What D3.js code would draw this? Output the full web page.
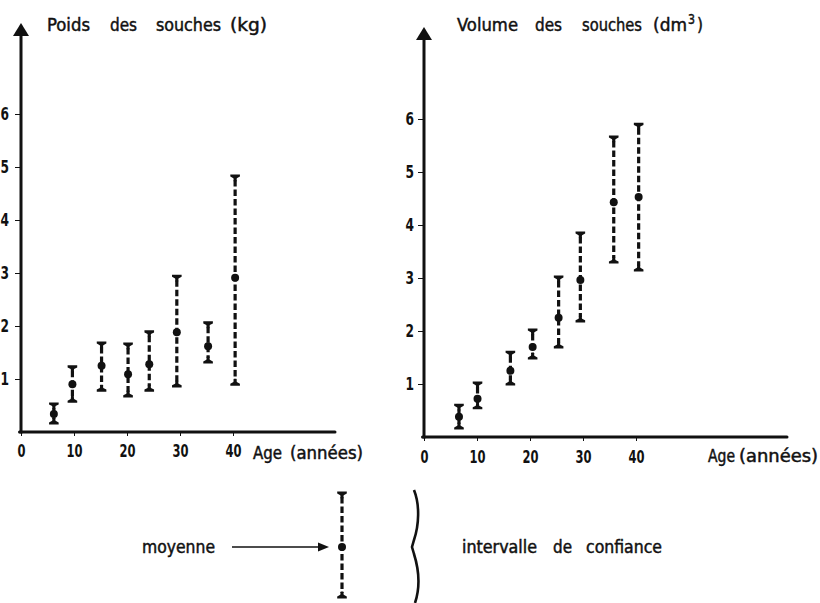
<!DOCTYPE html>
<html><head><meta charset="utf-8">
<script src="https://cdn.jsdelivr.net/npm/d3@7"></script>
<style>
html,body{margin:0;padding:0;background:#fff;}
svg text{font-family:"DejaVu Sans Condensed","DejaVu Sans",sans-serif;fill:#111;}
</style></head>
<body>
<svg id="chart" width="820" height="603"></svg>
<script>
// ---- data ----
const xTicks = [0, 10, 20, 30, 40];
const yTicks = [1, 2, 3, 4, 5, 6];

const leftAges = [6.2, 9.7, 15.2, 20.2, 24.2, 29.4, 35.3, 40.4];
const leftMean = [0.34, 0.90, 1.25, 1.09, 1.28, 1.88, 1.62, 2.91];
const leftLow  = [0.17, 0.58, 0.79, 0.68, 0.79, 0.87, 1.32, 0.90];
const leftHigh = [0.53, 1.23, 1.68, 1.66, 1.89, 2.94, 2.06, 4.83];

const rightAges = [6.6, 10.1, 16.3, 20.5, 25.4, 29.5, 35.8, 40.5];
const rightMean = [0.38, 0.72, 1.25, 1.70, 2.25, 2.96, 4.43, 4.53];
const rightLow  = [0.17, 0.55, 1.00, 1.49, 1.70, 2.19, 3.30, 3.15];
const rightHigh = [0.60, 1.02, 1.60, 2.02, 3.02, 3.85, 5.66, 5.90];

const leftTitleWords = ["Poids", "des", "souches", "(kg)"];
const rightTitleWords = ["Volume", "des", "souches", "(dm", "3", ")"];
const xLabelWords = ["Age", "(années)"];
const legendMeanWords = ["moyenne"];
const legendCIWords = ["intervalle", "de", "confiance"];

const svg = d3.select("#chart");
const ink = "#111";
const FONT = '"DejaVu Sans Condensed","DejaVu Sans",sans-serif';

function capTop(x, y) {
  return `M${x-4.8},${y-1.5} L${x+4.8},${y-1.5} L${x+4.8},${y+0.6} L${x+1.7},${y+2.2} L${x+1.3},${y+5.5} L${x-1.3},${y+5.5} L${x-1.7},${y+2.2} L${x-4.8},${y+0.6} Z`;
}
function capBottom(x, y) {
  return `M${x-4.8},${y+1.5} L${x+4.8},${y+1.5} L${x+4.8},${y-0.6} L${x+1.7},${y-2.2} L${x+1.3},${y-5.5} L${x-1.3},${y-5.5} L${x-1.7},${y-2.2} L${x-4.8},${y-0.6} Z`;
}

function drawErrorBar(g, x, yTop, yMid, yBot) {
  g.append("line").attr("x1", x).attr("x2", x).attr("y1", yTop + 4).attr("y2", yBot - 4)
    .attr("stroke", ink).attr("stroke-width", 3.2).attr("stroke-dasharray", "6.5,3");
  g.append("path").attr("d", capTop(x, yTop)).attr("fill", ink);
  g.append("path").attr("d", capBottom(x, yBot)).attr("fill", ink);
  if (yMid != null) g.append("circle").attr("cx", x).attr("cy", yMid).attr("r", 4).attr("fill", ink);
}

// each word placed as its own text, stretched to the span it covers in the reference
function words(g, list, spans, y, size, ys, sizes) {
  list.forEach((w, i) => {
    g.append("text")
      .attr("x", spans[i][0]).attr("y", ys ? ys[i] : y)
      .attr("font-size", sizes ? sizes[i] : size).attr("font-family", FONT)
      .attr("stroke", ink).attr("stroke-width", 0.45)
      .attr("textLength", spans[i][1] - spans[i][0]).attr("lengthAdjust", "spacingAndGlyphs")
      .text(w);
  });
}

function panel(opts) {
  const x = d3.scaleLinear().domain([0, 40]).range([opts.x0, opts.x40]);
  const y = d3.scaleLinear().domain([0, 6]).range([opts.y0, opts.y6]);
  const g = svg.append("g");

  // y ticks
  const ya = d3.axisLeft(y).tickValues(yTicks).tickSize(6).tickSizeOuter(0).tickPadding(opts.yPad).tickFormat(d3.format("d"));
  const yg = g.append("g").attr("transform", `translate(${opts.x0},0)`).call(ya);
  yg.select(".domain").remove();
  yg.selectAll("line").attr("stroke", ink).attr("stroke-width", 1);
  yg.selectAll("text").attr("font-size", 18).attr("fill", ink).attr("font-family", FONT).attr("font-weight", "bold")
    .attr("textLength", d => String(d).length * 8.5).attr("lengthAdjust", "spacingAndGlyphs");

  // x ticks
  const xa = d3.axisBottom(x).tickValues(xTicks).tickSize(4).tickSizeOuter(0).tickPadding(opts.xPad).tickFormat(d3.format("d"));
  const xg = g.append("g").attr("transform", `translate(0,${opts.y0})`).call(xa);
  xg.select(".domain").remove();
  xg.selectAll("line").attr("stroke", ink).attr("stroke-width", 1);
  xg.selectAll("text").attr("font-size", 18).attr("fill", ink).attr("font-family", FONT).attr("font-weight", "bold")
    .attr("textLength", d => String(d).length * 8).attr("lengthAdjust", "spacingAndGlyphs");

  // axis lines
  g.append("line").attr("x1", opts.x0).attr("x2", opts.x0).attr("y1", opts.y0 + 1.5).attr("y2", opts.arrowTip + 10)
    .attr("stroke", ink).attr("stroke-width", 3);
  g.append("line").attr("x1", opts.x0 - 1.5).attr("x2", opts.xEnd).attr("y1", opts.y0).attr("y2", opts.y0)
    .attr("stroke", ink).attr("stroke-width", 3).attr("stroke-linecap", "round");
  g.append("path")
    .attr("d", `M${opts.x0},${opts.arrowTip} L${opts.x0+8},${opts.arrowTip+13} L${opts.x0-8},${opts.arrowTip+13} Z`)
    .attr("fill", ink);

  // error bars
  opts.ages.forEach((a, i) => {
    drawErrorBar(g, x(a), y(opts.high[i]), y(opts.mean[i]), y(opts.low[i]));
  });

  // labels
  words(g, opts.titleWords, opts.titleSpans, opts.titleY, 18, opts.titleYs, opts.titleSizes);
  words(g, xLabelWords, opts.xLabelSpans, opts.xLabelY, 17);
}

panel({
  x0: 21, x40: 233, y0: 432, y6: 114, xEnd: 335, arrowTip: 23, xPad: 8, yPad: 6,
  ages: leftAges, mean: leftMean, low: leftLow, high: leftHigh,
  titleWords: leftTitleWords, titleSpans: [[47, 90], [110, 137], [156, 221], [230, 267]], titleY: 31,
  xLabelSpans: [[253, 282], [290, 363]], xLabelY: 459
});
panel({
  x0: 424, x40: 636, y0: 437, y6: 119, xEnd: 787, arrowTip: 27, xPad: 9, yPad: 4,
  ages: rightAges, mean: rightMean, low: rightLow, high: rightHigh,
  titleWords: rightTitleWords,
  titleSpans: [[457, 518], [535, 562], [582, 642], [653, 687], [688, 695], [697, 703]],
  titleY: 31, titleYs: [31, 31, 31, 31, 24, 31], titleSizes: [18, 18, 18, 18, 14, 18],
  xLabelSpans: [[708, 735], [739, 818]], xLabelY: 462
});

// ---- legend ----
const lg = svg.append("g");
words(lg, legendMeanWords, [[142, 215]], 553, 17);
lg.append("line").attr("x1", 232).attr("x2", 320).attr("y1", 547).attr("y2", 547)
  .attr("stroke", ink).attr("stroke-width", 1.6);
lg.append("path").attr("d", "M329,547 L318,542.5 L318,551.5 Z").attr("fill", ink);
drawErrorBar(lg, 342, 493, 547, 597);
lg.append("path")
  .attr("d", "M414,490 C420,505 419,525 414,540 L412,547 L414,554 C419,570 420,588 415,603")
  .attr("fill", "none").attr("stroke", ink).attr("stroke-width", 2.6);
words(lg, legendCIWords, [[462, 537], [553, 572], [586, 662]], 553, 17);
</script>
</body></html>
